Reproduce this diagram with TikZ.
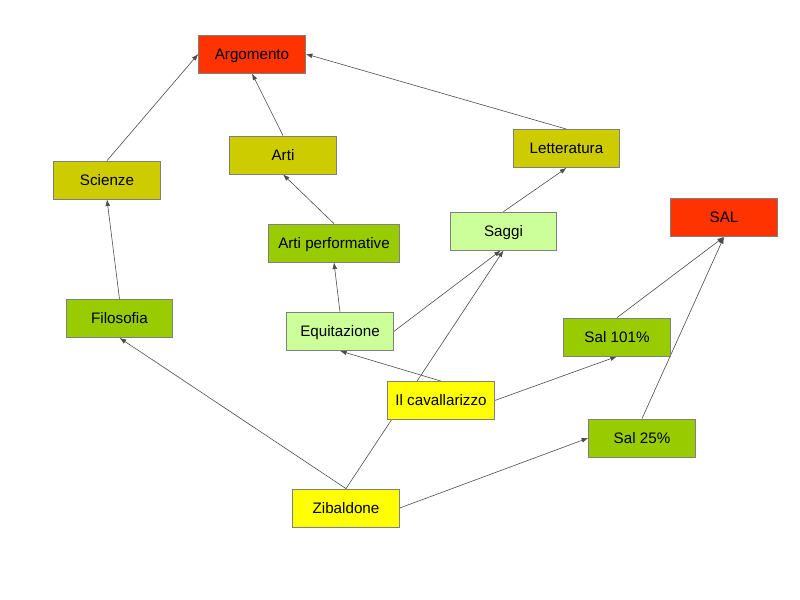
\documentclass[tikz,border=0pt]{standalone}
\usepackage{fontspec}
\setmainfont{Liberation Sans}
\usepackage{tikz}
\usetikzlibrary{arrows.meta,positioning,backgrounds}

\definecolor{redbox}{HTML}{FF3300}
\definecolor{olivebox}{HTML}{CCCC00}
\definecolor{greenbox}{HTML}{99CC00}
\definecolor{palebox}{HTML}{CCFF99}
\definecolor{yellowbox}{HTML}{FFFF00}

\begin{document}
\begin{tikzpicture}[
				x=0.75pt, y=-0.75pt,
				topic/.style={rectangle, draw=black!50, line width=0.6pt,
					minimum width=80pt, minimum height=28.5pt, inner sep=0pt,
					text height=8.2pt, text depth=0pt,
					font=\fontsize{11.4}{13}\selectfont},
				arrow/.style={-{Latex[length=5pt,width=3.6pt]}, draw=black!70, line width=0.45pt}
				]
				\useasboundingbox (0,0) rectangle (800,600);
				\node[topic, fill=redbox] (argomento) at (252,54) {Argomento};
				\node[topic, fill=olivebox] (arti) at (283,155) {Arti};
				\node[topic, fill=olivebox] (letteratura) at (566.5,148.5) {Letteratura};
				\node[topic, fill=olivebox] (scienze) at (107,180) {Scienze};
				\node[topic, fill=palebox] (saggi) at (503.5,231) {Saggi};
				\node[topic, fill=redbox] (sal) at (724,217.5) {SAL};
				\node[topic, fill=greenbox, minimum width=98.5pt] (performative) at (334,243) {Arti performative};
				\node[topic, fill=greenbox] (filosofia) at (119.5,318.5) {Filosofia};
				\node[topic, fill=palebox] (equitazione) at (340,331.5) {Equitazione};
				\node[topic, fill=greenbox] (sal101) at (617,337) {Sal 101\%};
				\node[topic, fill=yellowbox] (cavallarizzo) at (441,400.5) {Il cavallarizzo};
				\node[topic, fill=greenbox] (sal25) at (642,438) {Sal 25\%};
				\node[topic, fill=yellowbox] (zibaldone) at (346,508) {Zibaldone};
				\begin{scope}[on background layer]
					\fill[white] (0,0) rectangle (800,600);
					\draw[arrow] (scienze.north) -- (argomento.west);
					\draw[arrow] (arti.north) -- (argomento.south);
					\draw[arrow] (letteratura.north) -- (argomento.east);
					\draw[arrow] (saggi.north) -- (letteratura.south);
					\draw[arrow] (performative.north) -- (arti.south);
					\draw[arrow] (equitazione.north) -- (performative.south);
					\draw[arrow] (equitazione.east) -- ([xshift=-2pt]saggi.south);
					\draw[arrow] (zibaldone.north) -- (saggi.south);
					\draw[arrow] (cavallarizzo.north) -- (equitazione.south);
					\draw[arrow] (cavallarizzo.east) -- (sal101.south);
					\draw[arrow] (zibaldone.north) -- (filosofia.south);
					\draw[arrow] (filosofia.north) -- (scienze.south);
					\draw[arrow] (zibaldone.east) -- (sal25.west);
					\draw[arrow] (sal101.north) -- (sal.south);
					\draw[arrow] (sal25.north) -- (sal.south);
				\end{scope}
			\end{tikzpicture}
\end{document}
